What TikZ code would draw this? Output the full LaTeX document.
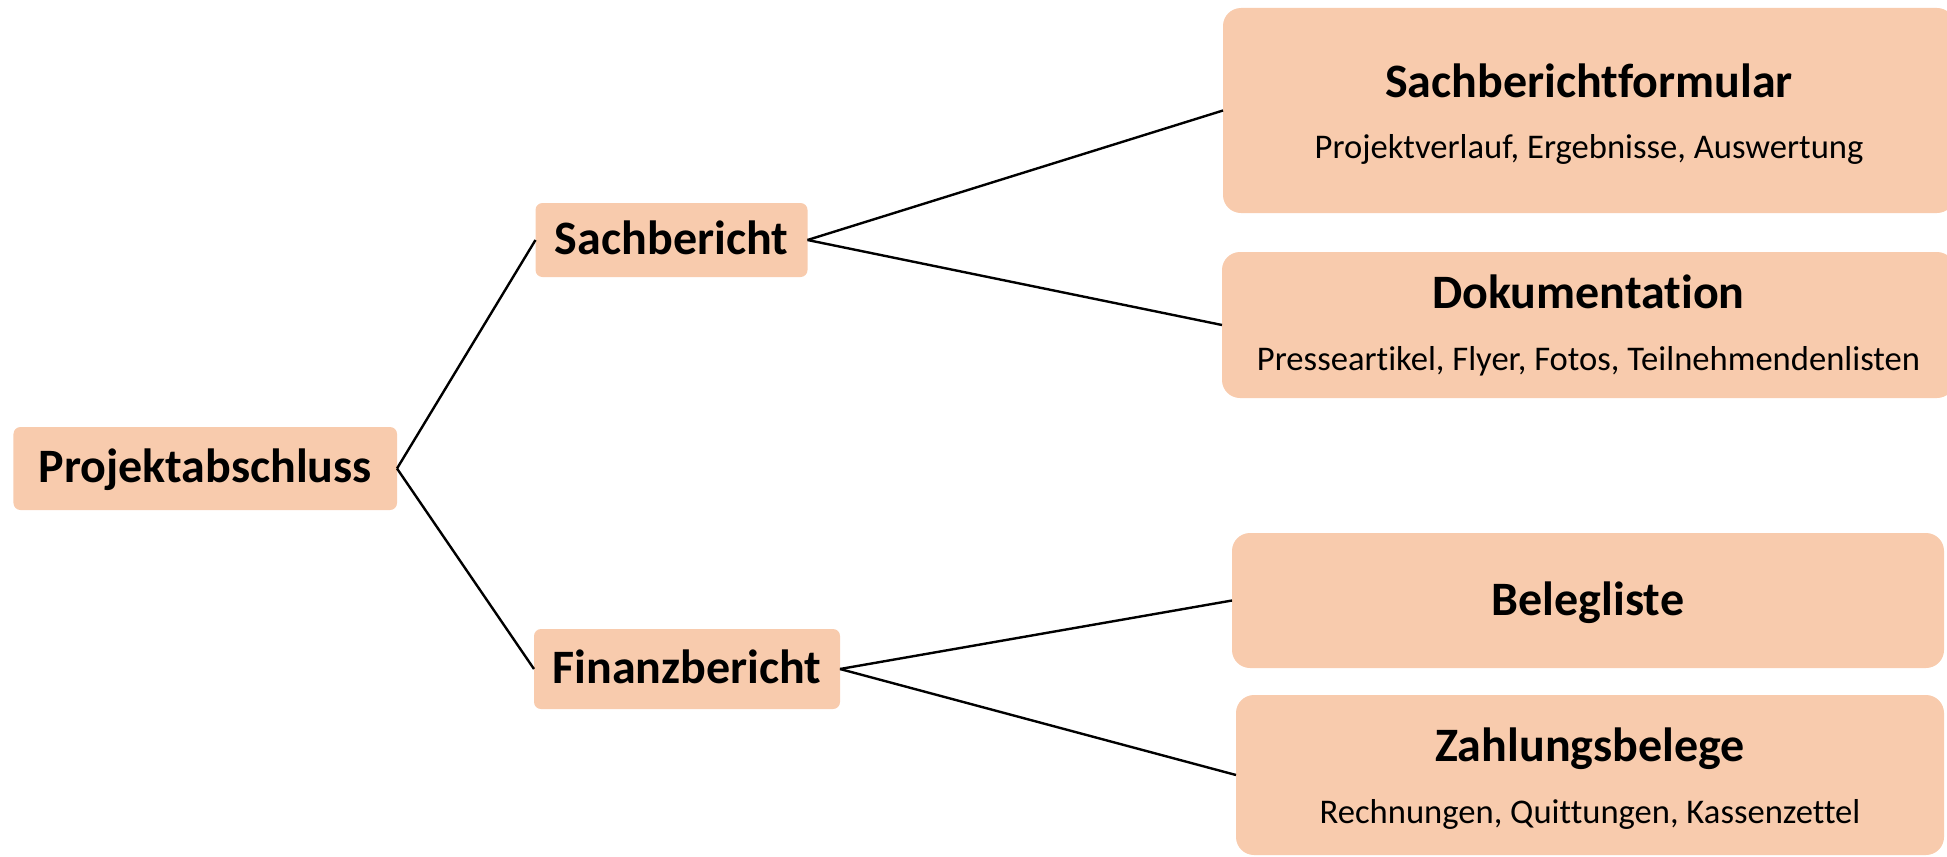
\documentclass[tikz,border=0pt]{standalone}
\usepackage{fontspec}
\setmainfont{Carlito}[Ligatures=NoCommon,RawFeature={-liga;-clig}]
\definecolor{peach}{HTML}{F8CBAD}
\begin{document}
\begin{tikzpicture}[x=1bp,y=-1bp,
  box/.style={fill=peach, draw=none, inner sep=0pt, outer sep=0pt},
  smallbox/.style={box, rounded corners=7bp, text height=28bp, text depth=0pt,
     font=\fontsize{48bp}{58bp}\selectfont\bfseries},
  bigbox/.style={box, rounded corners=18bp},
  titletext/.style={anchor=base, inner sep=0pt, font=\fontsize{48bp}{58bp}\selectfont\bfseries},
  subtext/.style={anchor=base, inner sep=0pt, font=\fontsize{34.6bp}{40bp}\selectfont},
  conn/.style={draw=black, line width=2.4bp}]
\useasboundingbox (0,0) rectangle (1947,857);

% left and middle boxes
\node[smallbox, minimum width=383.5bp, minimum height=83bp] (pa) at (205.25,468.5) {Projektabschluss};
\node[smallbox, minimum width=272bp, minimum height=74bp] (sb) at (671.5,240) {Sachbericht};
\node[smallbox, minimum width=306bp, minimum height=80bp] (fb) at (687,669) {Finanzbericht};

% right boxes
\node[bigbox, minimum width=732bp, minimum height=205bp] (sbf) at (1589,110.5) {};
\node[bigbox, minimum width=733bp, minimum height=146bp] (dok) at (1588.5,325) {};
\node[bigbox, minimum width=712bp, minimum height=135bp] (bel) at (1588,600.5) {};
\node[bigbox, minimum width=708bp, minimum height=160bp] (zb) at (1590,775) {};

% texts in right boxes
\node[titletext] (sbft) at (1589,97) {Sachberichtformular};
\node[subtext] (sbfs) at (1589,158) {Projektverlauf, Ergebnisse, Auswertung};
\node[titletext] (dokt) at (1588.5,308) {Dokumentation};
\node[subtext] (doks) at (1588.5,370) {Presseartikel, Flyer, Fotos, Teilnehmendenlisten};
\node[titletext] (belt) at (1588,615) {Belegliste};
\node[titletext] (zbt) at (1590,761) {Zahlungsbelege};
\node[subtext] (zbs) at (1590,823) {Rechnungen, Quittungen, Kassenzettel};

% connectors
\draw[conn] (pa.east) -- (sb.west);
\draw[conn] (pa.east) -- (fb.west);
\draw[conn] (sb.east) -- (sbf.west);
\draw[conn] (sb.east) -- (dok.west);
\draw[conn] (fb.east) -- (bel.west);
\draw[conn] (fb.east) -- (zb.west);
\end{tikzpicture}
\end{document}
